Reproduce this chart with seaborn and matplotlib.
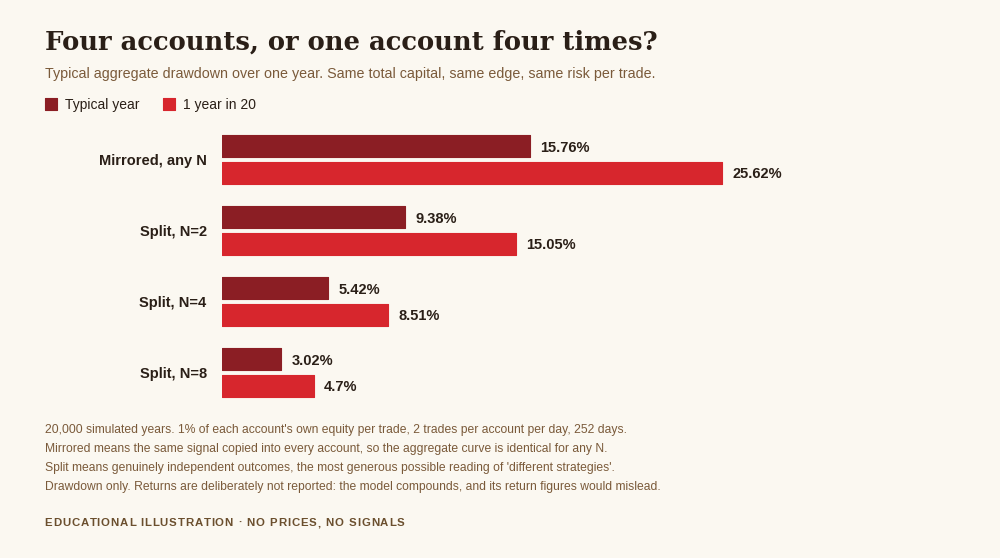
import pandas as pd
import numpy as np
import seaborn as sns
import matplotlib.pyplot as plt

# data
categories = ['Mirrored, any N', 'Split, N=2', 'Split, N=4', 'Split, N=8']
typical_year = [15.76, 9.38, 5.42, 3.02]
one_in_20 = [25.62, 15.05, 8.51, 4.7]
series_names = ['Typical year', '1 year in 20']

bg = '#fbf8f1'
dark = '#8b1e24'
red = '#d7262d'
ink = '#2a1f17'
brown = '#7a5a3a'

df = pd.DataFrame({
    'scenario': categories * 2,
    'drawdown': typical_year + one_in_20,
    'series': [series_names[0]] * 4 + [series_names[1]] * 4,
})

sns.set_style('white')
plt.rcParams['font.family'] = ['Liberation Sans', 'DejaVu Sans']

fig = plt.figure(figsize=(10, 5.58), dpi=100, facecolor=bg)
ax = fig.add_axes([0.222, 0.2688, 0.5856, 0.509])
ax.set_facecolor(bg)

sns.barplot(data=df, y='scenario', x='drawdown', hue='series', orient='h',
            palette=[dark, red], width=0.746, gap=0.17, legend=False, ax=ax,
            linewidth=0.8, edgecolor=None, saturation=1)

for cont, vals, col in zip(ax.containers, [typical_year, one_in_20], [dark, red]):
    for p in cont:
        p.set_edgecolor(col)
        p.set_joinstyle('round')
    texts = ax.bar_label(cont, labels=[f'{v:g}%' for v in vals], padding=7.5,
                         fontsize=10.5, fontweight='bold', color=ink)
    for t in texts:
        t.set_verticalalignment('center_baseline')

ax.set_xlim(0, 30)
ax.set_ylim(3.5, -0.5)
ax.set_xlabel('')
ax.set_ylabel('')
ax.set_xticks([])
ax.tick_params(axis='y', length=0, pad=11)
for t in ax.get_yticklabels():
    t.set_fontweight('bold')
    t.set_fontsize(10.5)
    t.set_color(ink)
sns.despine(ax=ax, left=True, bottom=True)

# title block
fig.text(0.045, 0.911, 'Four accounts, or one account four times?',
         family='DejaVu Serif', fontweight='bold',
         fontsize=18.6, color=ink, va='baseline')
fig.text(0.045, 0.861, 'Typical aggregate drawdown over one year. Same total capital, same edge, same risk per trade.',
         fontsize=10.25, color=brown, va='baseline')

# legend
for x0, name, col in [(0.045, series_names[0], dark), (0.163, series_names[1], red)]:
    fig.patches.append(plt.Rectangle((x0, 0.803), 0.012, 0.022, transform=fig.transFigure,
                                     facecolor=col, edgecolor=col, joinstyle='round', lw=0.8))
    fig.text(x0 + 0.02, 0.805, name, fontsize=10, color=ink, va='baseline')

notes = [
    "20,000 simulated years. 1% of each account's own equity per trade, 2 trades per account per day, 252 days.",
    "Mirrored means the same signal copied into every account, so the aggregate curve is identical for any N.",
    "Split means genuinely independent outcomes, the most generous possible reading of 'different strategies'.",
    "Drawdown only. Returns are deliberately not reported: the model compounds, and its return figures would mislead.",
]
for i, line in enumerate(notes):
    fig.text(0.045, 1 - (433 + 19 * i) / 558, line, fontsize=8.75, color=brown, va='baseline')

# letter-spaced footer, drawn one character at a time
footer = 'EDUCATIONAL ILLUSTRATION \u00b7 NO PRICES, NO SIGNALS'
renderer = fig.canvas.get_renderer()
probe = fig.text(0, 0, '|', fontsize=8.2, fontweight='bold')
bar_w = probe.get_window_extent(renderer).width
spacing = 0.9
for i, ch in enumerate(footer):
    probe.set_text(footer[:i] + '|')
    x_px = 44.5 + probe.get_window_extent(renderer).width - bar_w + i * spacing
    fig.text(x_px / 1000, 1 - 526 / 558, ch, fontsize=8.2, fontweight='bold',
             color='#6b4f2e', va='baseline')
probe.remove()

fig.savefig('out.png', dpi=100, facecolor=bg)
